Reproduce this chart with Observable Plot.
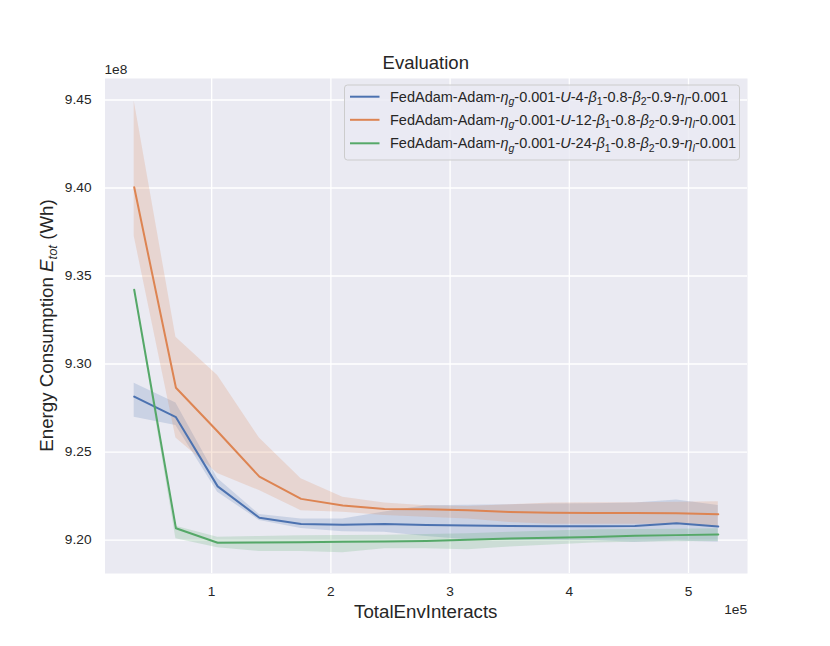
<!DOCTYPE html>
<html><head>
<meta charset="utf-8">
<script src="https://cdn.jsdelivr.net/npm/d3@7"></script>
<script src="https://cdn.jsdelivr.net/npm/@observablehq/plot@0.6"></script>
<style>body{margin:0;background:#fff}</style>
</head><body><div id="chart"></div>
<script>
// ---- data (energy in units of 1e8 Wh) ----
const steps = [35000,70000,105000,140000,175000,210000,245000,280000,315000,350000,385000,420000,455000,490000,525000];
const seriesNames = ["U-4","U-12","U-24"];
const seriesColors = ["#4c72b0","#dd8452","#55a868"];

const u4Mean = [9.2815,9.2698,9.2305,9.2127,9.2091,9.2087,9.2091,9.2085,9.2082,9.2080,9.2078,9.2078,9.2080,9.2096,9.2077];
const u4Lo   = [9.2698,9.2651,9.2272,9.2111,9.2065,9.2047,9.2045,9.2020,9.2002,9.1998,9.1998,9.1998,9.1988,9.1995,9.1988];
const u4Hi   = [9.2891,9.2778,9.2350,9.2145,9.2119,9.2120,9.2160,9.2195,9.2198,9.2200,9.2205,9.2206,9.2210,9.2227,9.2196];

const u12Mean = [9.4004,9.2865,9.2617,9.2360,9.2234,9.2196,9.2177,9.2175,9.2170,9.2160,9.2155,9.2153,9.2153,9.2152,9.2147];
const u12Lo   = [9.3726,9.2580,9.2378,9.2281,9.2167,9.2158,9.2140,9.2130,9.2120,9.2100,9.2090,9.2090,9.2090,9.2090,9.2075];
const u12Hi   = [9.4494,9.3152,9.2935,9.2580,9.2348,9.2243,9.2210,9.2195,9.2190,9.2200,9.2210,9.2212,9.2212,9.2215,9.2218];

const u24Mean = [9.3422,9.2067,9.1985,9.1986,9.1988,9.1990,9.1992,9.1995,9.2002,9.2009,9.2013,9.2017,9.2024,9.2028,9.2031];
const u24Lo   = [9.3419,9.2007,9.1956,9.1935,9.1935,9.1928,9.1950,9.1950,9.1945,9.1960,9.1972,9.1983,9.1987,9.1990,9.1992];
const u24Hi   = [9.3425,9.2079,9.2016,9.2020,9.2025,9.2026,9.2028,9.2031,9.2036,9.2045,9.2052,9.2058,9.2060,9.2062,9.2064];

const xTicks = [100000,200000,300000,400000,500000];
const yTicks = [9.20,9.25,9.30,9.35,9.40,9.45];
const legendLabels = ["4","12","24"];

// ---- table ----
const groups = [[u4Mean,u4Lo,u4Hi],[u12Mean,u12Lo,u12Hi],[u24Mean,u24Lo,u24Hi]];
const rows = [];
groups.forEach((g,k) => steps.forEach((s,i) => rows.push({s, series: seriesNames[k], mean: g[0][i], lo: g[1][i], hi: g[2][i]})));

const W = 830, H = 646;
const mL = 104.5, mR = 83, mT = 78, mB = 73;
const font = "'Liberation Sans', Arial, Helvetica, sans-serif";
const ink = "#262626";

const chart = Plot.plot({
  width: W, height: H,
  marginLeft: mL, marginRight: mR, marginTop: mT, marginBottom: mB,
  style: {fontFamily: font, fontSize: "13.7px", color: ink, background: "white"},
  x: {domain: [10500, 549500]},
  y: {domain: [9.181, 9.4622]},
  color: {domain: seriesNames, range: seriesColors},
  marks: [
    Plot.frame({fill: "#eaeaf2", stroke: null}),
    Plot.gridX(xTicks, {stroke: "white", strokeOpacity: 1, strokeWidth: 1.3}),
    Plot.gridY(yTicks, {stroke: "white", strokeOpacity: 1, strokeWidth: 1.3}),
    Plot.areaY(rows, {x: "s", y1: "lo", y2: "hi", z: "series", fill: "series", fillOpacity: 0.2}),
    Plot.lineY(rows, {x: "s", y: "mean", z: "series", stroke: "series", strokeWidth: 2}),
    Plot.axisX(xTicks, {tickSize: 0, tickPadding: 13, tickFormat: d => String(d / 1e5), label: null, fontSize: 13.7, fill: ink}),
    Plot.axisY(yTicks, {tickSize: 0, tickPadding: 13.5, tickFormat: d3.format(".2f"), label: null, fontSize: 13.7, fill: ink})
  ]
});
document.getElementById("chart").appendChild(chart);

const svg = d3.select(chart);
const cx = (mL + (W - mR)) / 2, cy = (mT + (H - mB)) / 2;

svg.append("text").attr("x", cx).attr("y", 69).attr("text-anchor", "middle")
  .attr("font-size", 18.5).attr("fill", ink).attr("font-family", font).text("Evaluation");
svg.append("text").attr("x", mL).attr("y", 73.5).attr("text-anchor", "start")
  .attr("font-size", 13.7).attr("fill", ink).attr("font-family", font).text("1e8");
svg.append("text").attr("x", W - mR).attr("y", 614).attr("text-anchor", "end")
  .attr("font-size", 13.7).attr("fill", ink).attr("font-family", font).text("1e5");
svg.append("text").attr("x", cx).attr("y", 618).attr("text-anchor", "middle")
  .attr("font-size", 18.7).attr("fill", ink).attr("font-family", font).text("TotalEnvInteracts");

const yl = svg.append("text").attr("transform", `translate(52.7,${cy}) rotate(-90)`).attr("text-anchor", "middle")
  .attr("font-size", 18.7).attr("fill", ink).attr("font-family", font);
yl.append("tspan").text("Energy Consumption ");
yl.append("tspan").attr("font-style", "italic").text("E");
yl.append("tspan").attr("font-style", "italic").attr("font-size", 13).attr("dy", 4).text("tot");
yl.append("tspan").attr("dy", -4).text(" (Wh)");

// ---- legend ----
const lg = svg.append("g");
lg.append("rect").attr("x", 344.5).attr("y", 85).attr("width", 395).attr("height", 75).attr("rx", 3)
  .attr("fill", "#eaeaf2").attr("fill-opacity", 0.8).attr("stroke", "#cccccc").attr("stroke-width", 1);
const rowY = [96.7, 119.8, 143.3];
const fs = 14.5, sub = 10.5, sd = 3.5;
legendLabels.forEach((u, k) => {
  const y = rowY[k];
  lg.append("line").attr("x1", 350).attr("x2", 379.5).attr("y1", y).attr("y2", y)
    .attr("stroke", seriesColors[k]).attr("stroke-width", 2);
  const t = lg.append("text").attr("x", 390).attr("y", y + 5).attr("text-anchor", "start")
    .attr("font-size", fs).attr("fill", ink).attr("font-family", font);
  const parts = [
    ["FedAdam-Adam-"], ["η", "i"], ["g", "is"], ["-0.001-"], ["U", "i"], ["-" + u + "-"],
    ["β", "i"], ["1", "s"], ["-0.8-"], ["β", "i"], ["2", "s"], ["-0.9-"], ["η", "i"], ["l", "is"], ["-0.001"]
  ];
  let down = false;
  parts.forEach(([txt, f = ""]) => {
    const sp = t.append("tspan").text(txt);
    if (f.includes("i")) sp.attr("font-style", "italic");
    const isSub = f.includes("s");
    if (isSub) { sp.attr("font-size", sub); if (!down) { sp.attr("dy", sd); down = true; } }
    else if (down) { sp.attr("dy", -sd); down = false; }
  });
});
</script>
</body></html>
